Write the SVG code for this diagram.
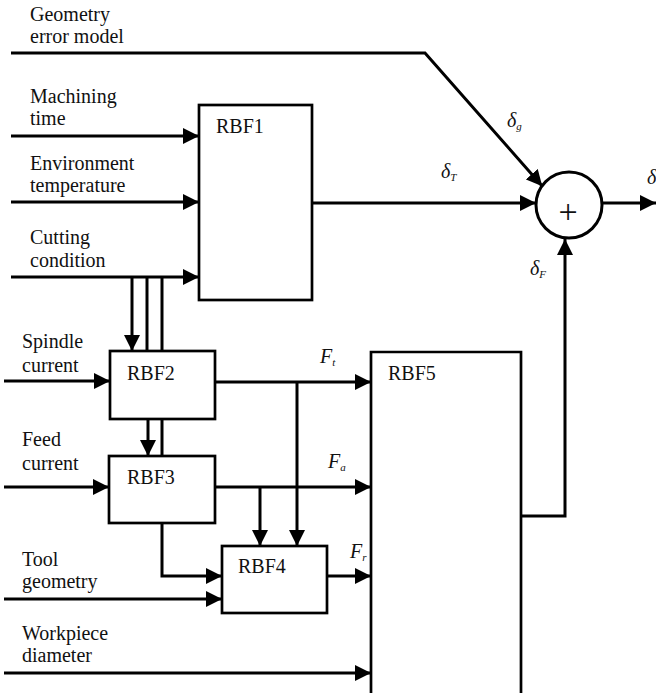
<svg xmlns="http://www.w3.org/2000/svg" width="656" height="693" viewBox="0 0 656 693">
<style>
text{font-family:'Liberation Serif','DejaVu Serif',serif;font-size:20px;fill:#111}
.i{font-style:italic}
.s{font-size:11px}
.box{fill:#fff;stroke:#000;stroke-width:2.7}
.ln{fill:none;stroke:#000;stroke-width:3}
.ar{fill:none;stroke:#000;stroke-width:3;marker-end:url(#ah)}
</style>
<defs>
<marker id="ah" markerUnits="userSpaceOnUse" markerWidth="16" markerHeight="16" refX="16" refY="8" orient="auto" viewBox="0 0 16 16">
<path d="M0,0 L16,8 L0,16 z" fill="#000"/>
</marker>
</defs>
<rect width="656" height="693" fill="#fff"/>
<g id="labels" font-family="Liberation Serif, DejaVu Serif, serif">
<text x="30" y="21">Geometry</text>
<text x="30" y="43">error model</text>
<text x="30" y="103">Machining</text>
<text x="30" y="125">time</text>
<text x="30" y="170">Environment</text>
<text x="30" y="192">temperature</text>
<text x="30" y="244">Cutting</text>
<text x="30" y="267">condition</text>
<text x="22" y="348">Spindle</text>
<text x="22" y="372">current</text>
<text x="22" y="446">Feed</text>
<text x="22" y="470">current</text>
<text x="22" y="566">Tool</text>
<text x="22" y="588">geometry</text>
<text x="22" y="640">Workpiece</text>
<text x="22" y="662">diameter</text>
<text class="i" x="507" y="127">δ<tspan class="s" dy="3">g</tspan></text>
<text class="i" x="441" y="178">δ<tspan class="s" dy="3">T</tspan></text>
<text class="i" x="530" y="275">δ<tspan class="s" dy="3">F</tspan></text>
<text class="i" x="647" y="184">δ</text>
<text class="i" x="320" y="363">F<tspan class="s" dy="3">t</tspan></text>
<text class="i" x="328" y="468">F<tspan class="s" dy="3">a</tspan></text>
<text class="i" x="350" y="558">F<tspan class="s" dy="3">r</tspan></text>
</g>
<g id="connectors">
<polyline class="ar" points="11,53 425,53 542.3,186.2"/>
<line class="ar" x1="11" y1="136" x2="199" y2="136"/>
<line class="ar" x1="11" y1="202" x2="199" y2="202"/>
<line class="ar" x1="11" y1="277" x2="199" y2="277"/>
<line class="ar" x1="132" y1="277" x2="132" y2="351"/>
<line class="ln" x1="147" y1="277" x2="147" y2="351"/>
<line class="ln" x1="162" y1="277" x2="162" y2="351"/>
<line class="ar" x1="312" y1="203" x2="536" y2="203"/>
<line class="ar" x1="602" y1="203" x2="656" y2="203"/>
<polyline class="ar" points="521,516 565,516 565,239"/>
<line class="ar" x1="4" y1="381" x2="110" y2="381"/>
<line class="ar" x1="215" y1="382" x2="371" y2="382"/>
<line class="ar" x1="297" y1="382" x2="297" y2="546"/>
<line class="ar" x1="148" y1="419" x2="148" y2="456"/>
<line class="ln" x1="162" y1="419" x2="162" y2="456"/>
<line class="ar" x1="4" y1="487" x2="109" y2="487"/>
<line class="ar" x1="215" y1="487" x2="371" y2="487"/>
<line class="ar" x1="260" y1="487" x2="260" y2="546"/>
<polyline class="ar" points="162,523 162,576 222,576"/>
<line class="ar" x1="4" y1="599" x2="222" y2="599"/>
<line class="ar" x1="327" y1="576" x2="371" y2="576"/>
<line class="ar" x1="4" y1="673" x2="371" y2="673"/>
</g>
<g id="sum">
<circle cx="569" cy="205" r="33" fill="#fff" stroke="#000" stroke-width="3"/>
<text x="568" y="223" text-anchor="middle" style="font-size:34px">+</text>
</g>
<g id="rbf1">
<rect class="box" x="199" y="105" width="113" height="195"/>
<text x="216" y="133">RBF1</text>
</g>
<g id="rbf2">
<rect class="box" x="110" y="351" width="105" height="68"/>
<text x="127" y="380">RBF2</text>
</g>
<g id="rbf3">
<rect class="box" x="109" y="456" width="106" height="67"/>
<text x="127" y="484">RBF3</text>
</g>
<g id="rbf4">
<rect class="box" x="222" y="546" width="105" height="67"/>
<text x="238" y="573">RBF4</text>
</g>
<g id="rbf5">
<path class="box" d="M371,700 L371,352 L521,352 L521,700"/>
<text x="388" y="380">RBF5</text>
</g>
</svg>
